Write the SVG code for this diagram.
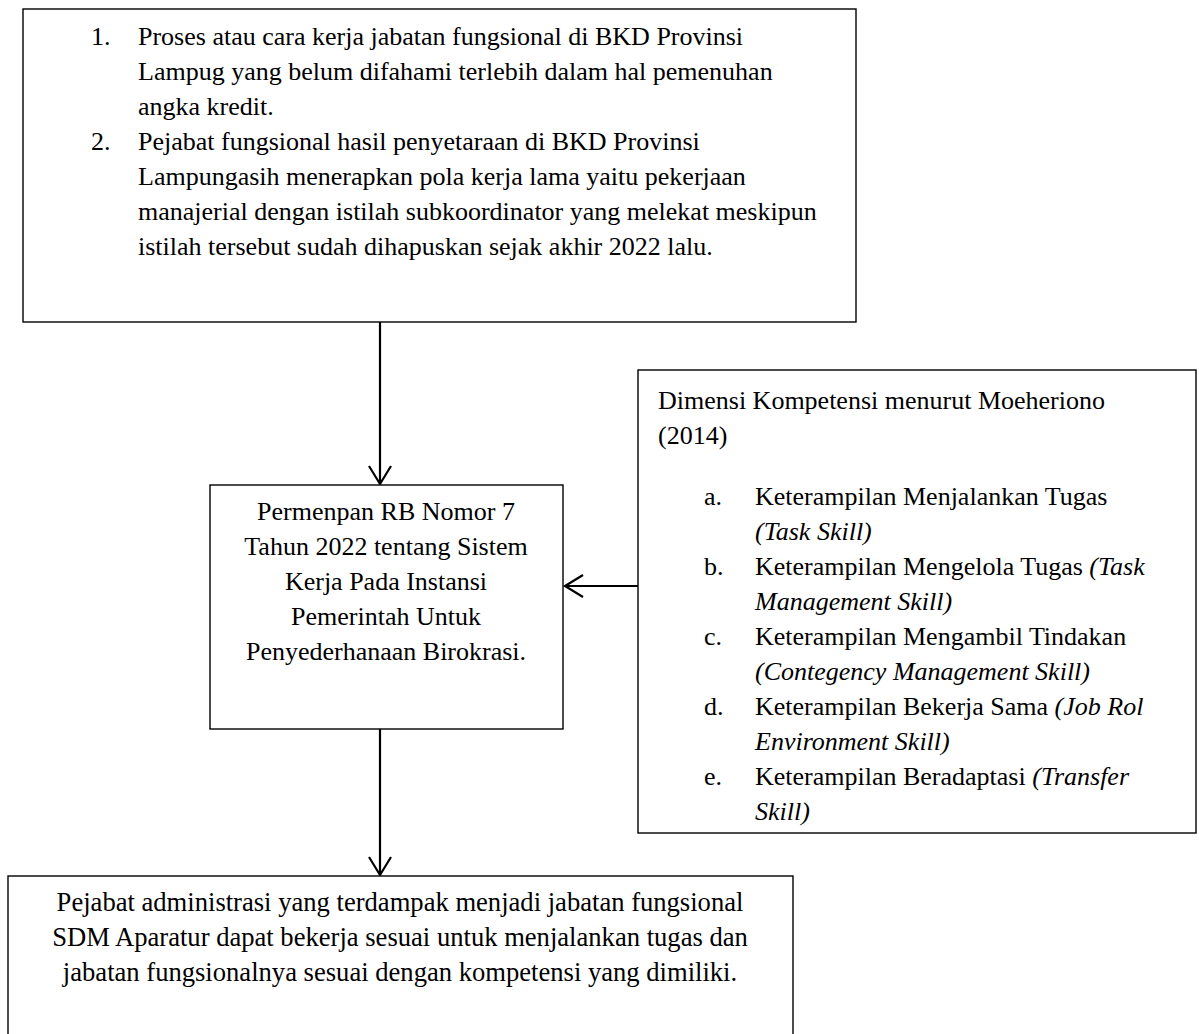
<svg xmlns="http://www.w3.org/2000/svg" width="1199" height="1034" viewBox="0 0 1199 1034">
<defs>
<style>
.box{fill:#fff;stroke:#000;stroke-width:1.4}
.t{font-family:"Liberation Serif","Times New Roman",serif;font-size:26px;fill:#000}
.big{font-size:26.6px}
.c{text-anchor:middle}
.i{font-style:italic}
.ln{stroke:#000;stroke-width:2.2;fill:none}
</style>
<marker id="arr" markerWidth="24" markerHeight="24" refX="19" refY="12" orient="auto" markerUnits="userSpaceOnUse">
<path d="M1,1 L19,12 L1,23" fill="none" stroke="#000" stroke-width="2.2"/>
</marker>
</defs>
<rect width="1199" height="1034" fill="#fff"/>
<g id="connectors">
<line class="ln" x1="380" y1="322" x2="380" y2="484" marker-end="url(#arr)"/>
<line class="ln" x1="380" y1="729" x2="380" y2="875" marker-end="url(#arr)"/>
<line class="ln" x1="638" y1="586" x2="565" y2="586" marker-end="url(#arr)"/>
</g>
<g id="node-problems">
<rect class="box" x="23" y="9" width="833" height="313"/>
<text class="t" x="91" y="45">1.</text>
<text class="t" x="138" y="45">Proses atau cara kerja jabatan fungsional di BKD Provinsi</text>
<text class="t" x="138" y="80">Lampug yang belum difahami terlebih dalam hal pemenuhan</text>
<text class="t" x="138" y="115">angka kredit.</text>
<text class="t" x="91" y="150">2.</text>
<text class="t" x="138" y="150">Pejabat fungsional hasil penyetaraan di BKD Provinsi</text>
<text class="t" x="138" y="185">Lampungasih menerapkan pola kerja lama yaitu pekerjaan</text>
<text class="t" x="138" y="220">manajerial dengan istilah subkoordinator yang melekat meskipun</text>
<text class="t" x="138" y="255">istilah tersebut sudah dihapuskan sejak akhir 2022 lalu.</text>
</g>
<g id="node-regulation">
<rect class="box" x="210" y="485" width="353" height="244"/>
<text class="t c" x="386" y="520">Permenpan RB Nomor 7</text>
<text class="t c" x="386" y="555">Tahun 2022 tentang Sistem</text>
<text class="t c" x="386" y="590">Kerja Pada Instansi</text>
<text class="t c" x="386" y="625">Pemerintah Untuk</text>
<text class="t c" x="386" y="660">Penyederhanaan Birokrasi.</text>
</g>
<g id="node-competency">
<rect class="box" x="638" y="370" width="558" height="463"/>
<text class="t" x="658" y="409">Dimensi Kompetensi menurut Moeheriono</text>
<text class="t" x="658" y="444">(2014)</text>
<text class="t" x="704" y="505">a.</text>
<text class="t" x="755" y="505">Keterampilan Menjalankan Tugas</text>
<text class="t i" x="755" y="540">(Task Skill)</text>
<text class="t" x="704" y="575">b.</text>
<text class="t" x="755" y="575">Keterampilan Mengelola Tugas <tspan class="i">(Task</tspan></text>
<text class="t i" x="755" y="610">Management Skill)</text>
<text class="t" x="704" y="645">c.</text>
<text class="t" x="755" y="645">Keterampilan Mengambil Tindakan</text>
<text class="t i" x="755" y="680">(Contegency Management Skill)</text>
<text class="t" x="704" y="715">d.</text>
<text class="t" x="755" y="715">Keterampilan Bekerja Sama <tspan class="i">(Job Rol</tspan></text>
<text class="t i" x="755" y="750">Environment Skill)</text>
<text class="t" x="704" y="785">e.</text>
<text class="t" x="755" y="785">Keterampilan Beradaptasi <tspan class="i">(Transfer</tspan></text>
<text class="t i" x="755" y="820">Skill)</text>
</g>
<g id="node-outcome">
<rect class="box" x="8" y="876" width="785" height="170"/>
<text class="t big c" x="400" y="911">Pejabat administrasi yang terdampak menjadi jabatan fungsional</text>
<text class="t big c" x="400" y="946">SDM Aparatur dapat bekerja sesuai untuk menjalankan tugas dan</text>
<text class="t big c" x="400" y="981">jabatan fungsionalnya sesuai dengan kompetensi yang dimiliki.</text>
</g>
</svg>
